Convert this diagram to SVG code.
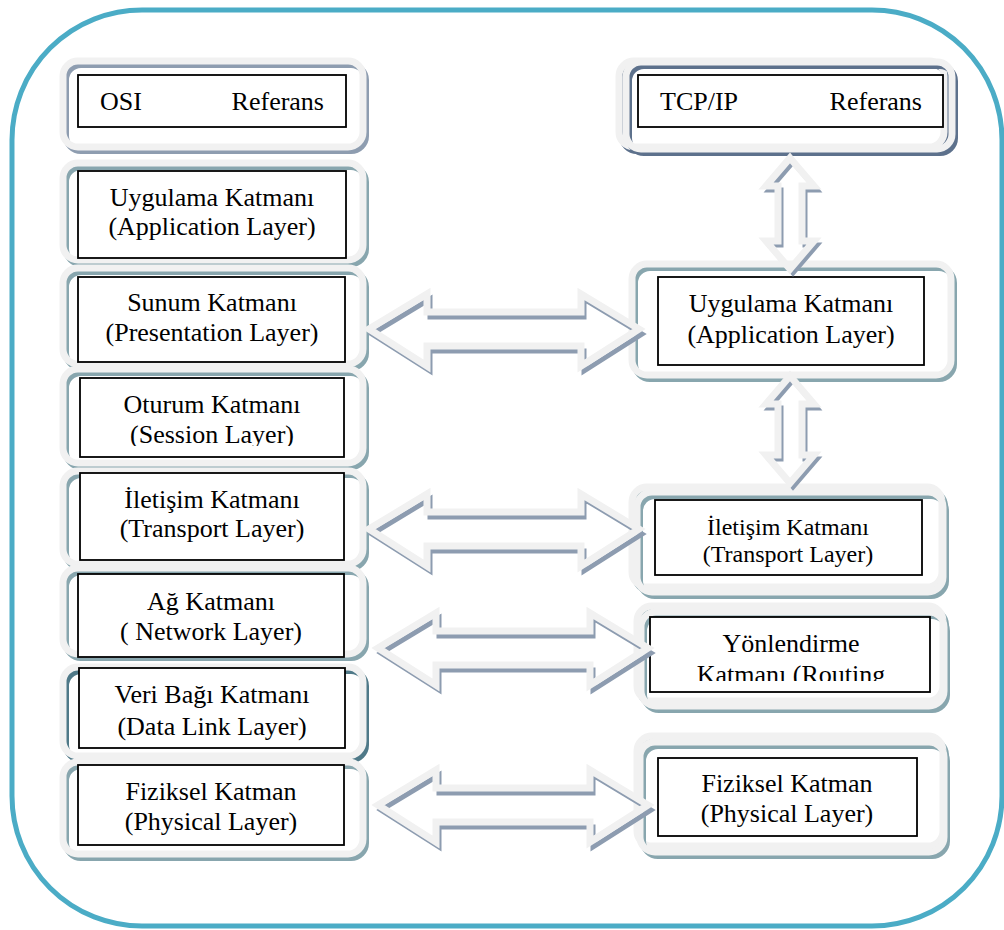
<svg xmlns="http://www.w3.org/2000/svg" xmlns:xlink="http://www.w3.org/1999/xlink" width="1004" height="930" viewBox="0 0 1004 930">
  <style>
    .outline { fill: none; stroke: #4bacc6; stroke-width: 5; }
    .face { fill: none; stroke: #f1f1f1; stroke-width: 7; stroke-linejoin: round; }
    .sh { fill: none; stroke-width: 6; stroke-linejoin: round; }
    .sh-blue { stroke: #8e9db0; }
    .sh-teal { stroke: #88a6ae; }
    .sh-dark { stroke: #5d718c; }
    .sh-deep { stroke: #4f7988; }
    .box { fill: #ffffff; stroke: #000000; stroke-width: 1.8; }
    .lbl { font-family: "Liberation Serif", "Times New Roman", serif; font-size: 26px; fill: #000000; text-anchor: middle; }
    .lbl-s { font-size: 24px; }
    .hdr { font-family: "Liberation Serif", "Times New Roman", serif; font-size: 26px; fill: #000000; }
    .arr-sh { fill: none; stroke: #8d9cb0; stroke-width: 5; stroke-linejoin: miter; }
    .arr { fill: none; stroke: #f1f1f1; stroke-width: 7; stroke-linejoin: miter; }
  </style>
  <defs>
    <clipPath id="clip-session"><rect x="80" y="378" width="264" height="68"/></clipPath>
    <clipPath id="clip-routing"><rect x="650" y="617" width="280" height="64"/></clipPath>
    <!-- horizontal double block arrow, centred on y=0 -->
    <polygon id="harrow" points="0,0 58,-35 58,-17 212,-17 212,-35 270,0 212,37 212,17 58,17 58,37"/>
    <!-- vertical double block arrow, centred on x=0 -->
    <polygon id="varrow-a" points="0,0 24,28 12,28 12,83 24,83 0,111 -24,83 -12,83 -12,28 -24,28"/>
    <polygon id="varrow-b" points="0,0 24,28 12,28 12,79 24,79 0,107 -24,79 -12,79 -12,28 -24,28"/>
  </defs>

  <!-- outer rounded border -->
  <rect class="outline" x="12" y="10" width="990" height="916" rx="130" ry="130"/>

  <!-- OSI column -->
  <g id="osi-header">
    <rect class="sh sh-blue" x="66" y="65" width="300" height="86" rx="15"/>
    <rect class="face" x="63" y="61" width="300" height="86" rx="15"/>
    <rect class="box" x="78" y="75" width="268" height="52"/>
    <text class="hdr" x="100" y="110">OSI</text>
    <text class="hdr" x="324" y="110" text-anchor="end">Referans</text>
  </g>
  <g id="osi-application">
    <rect class="sh sh-teal" x="66" y="167" width="300" height="97" rx="15"/>
    <rect class="face" x="63" y="163" width="300" height="97" rx="15"/>
    <rect class="box" x="78" y="171" width="268" height="87"/>
    <text class="lbl" x="212" y="206">Uygulama Katmanı</text>
    <text class="lbl" x="212" y="235">(Application Layer)</text>
  </g>
  <g id="osi-presentation">
    <rect class="sh sh-teal" x="66" y="272" width="300" height="96" rx="15"/>
    <rect class="face" x="63" y="268" width="300" height="96" rx="15"/>
    <rect class="box" x="78" y="277" width="267" height="85"/>
    <text class="lbl" x="212" y="311">Sunum Katmanı</text>
    <text class="lbl" x="212" y="341">(Presentation Layer)</text>
  </g>
  <g id="osi-session">
    <rect class="sh sh-teal" x="66" y="373" width="300" height="94" rx="15"/>
    <rect class="face" x="63" y="369" width="300" height="94" rx="15"/>
    <rect class="box" x="80" y="378" width="264" height="79"/>
    <g clip-path="url(#clip-session)">
      <text class="lbl" x="212" y="413">Oturum Katmanı</text>
      <text class="lbl" x="212" y="443">(Session Layer)</text>
    </g>
  </g>
  <g id="osi-transport">
    <rect class="sh sh-teal" x="66" y="475" width="300" height="93" rx="15"/>
    <rect class="face" x="63" y="471" width="300" height="93" rx="15"/>
    <rect class="box" x="80" y="473" width="264" height="87"/>
    <text class="lbl" x="212" y="508">İletişim Katmanı</text>
    <text class="lbl" x="212" y="537">(Transport Layer)</text>
  </g>
  <g id="osi-network">
    <rect class="sh sh-teal" x="66" y="572" width="300" height="86" rx="15"/>
    <rect class="face" x="63" y="568" width="300" height="86" rx="15"/>
    <rect class="box" x="78" y="574" width="266" height="83"/>
    <text class="lbl" x="211" y="610">Ağ Katmanı</text>
    <text class="lbl" x="211" y="640">( Network Layer)</text>
  </g>
  <g id="osi-datalink">
    <rect class="sh sh-deep" x="66" y="671" width="300" height="89" rx="15"/>
    <rect class="face" x="63" y="667" width="300" height="89" rx="15"/>
    <rect class="box" x="79" y="668" width="266" height="80"/>
    <text class="lbl" x="212" y="703">Veri Bağı Katmanı</text>
    <text class="lbl" x="212" y="735">(Data Link Layer)</text>
  </g>
  <g id="osi-physical">
    <rect class="sh sh-teal" x="66" y="766" width="300" height="92" rx="15"/>
    <rect class="face" x="63" y="762" width="300" height="92" rx="15"/>
    <rect class="box" x="78" y="765" width="266" height="80"/>
    <text class="lbl" x="211" y="800">Fiziksel Katman</text>
    <text class="lbl" x="211" y="830">(Physical Layer)</text>
  </g>

  <!-- TCP/IP column -->
  <g id="tcp-header">
    <rect class="sh sh-dark" x="622" y="65" width="325" height="86" rx="15"/>
    <rect class="face" x="619" y="61" width="325" height="86" rx="15"/>
    <rect class="sh sh-dark" x="629" y="66" width="326" height="87" rx="15"/>
    <rect class="face" x="626" y="62" width="326" height="87" rx="15"/>
    <rect class="box" x="638" y="75" width="305" height="52"/>
    <text class="hdr" x="660" y="110">TCP/IP</text>
    <text class="hdr" x="922" y="110" text-anchor="end">Referans</text>
  </g>
  <g id="tcp-application">
    <rect class="sh sh-teal" x="635" y="268" width="319" height="111" rx="15"/>
    <rect class="face" x="632" y="264" width="319" height="111" rx="15"/>
    <rect class="box" x="658" y="277" width="266" height="88"/>
    <text class="lbl" x="791" y="312">Uygulama Katmanı</text>
    <text class="lbl" x="791" y="343">(Application Layer)</text>
  </g>
  <g id="tcp-transport">
    <rect class="sh sh-teal" x="635" y="491" width="310" height="100" rx="15"/>
    <rect class="face" x="632" y="487" width="310" height="100" rx="15"/>
    <rect class="sh sh-teal" x="640" y="496" width="306" height="100" rx="15"/>
    <rect class="face" x="637" y="492" width="306" height="100" rx="15"/>
    <rect class="box" x="655" y="500" width="267" height="75"/>
    <text class="lbl lbl-s" x="788" y="535">İletişim Katmanı</text>
    <text class="lbl lbl-s" x="788" y="562">(Transport Layer)</text>
  </g>
  <g id="tcp-routing">
    <rect class="sh sh-teal" x="640" y="610" width="306" height="95" rx="15"/>
    <rect class="face" x="637" y="606" width="306" height="95" rx="15"/>
    <rect class="sh sh-teal" x="644" y="616" width="303" height="94" rx="15"/>
    <rect class="face" x="641" y="612" width="303" height="94" rx="15"/>
    <rect class="box" x="650" y="617" width="280" height="75"/>
    <g clip-path="url(#clip-routing)">
      <text class="lbl" x="791" y="652">Yönlendirme</text>
      <text class="lbl" x="791" y="683">Katmanı (Routing</text>
    </g>
  </g>
  <g id="tcp-physical">
    <rect class="sh sh-teal" x="640" y="740" width="306" height="110" rx="15"/>
    <rect class="face" x="637" y="736" width="306" height="110" rx="15"/>
    <rect class="sh sh-teal" x="643" y="746" width="304" height="110" rx="15"/>
    <rect class="face" x="640" y="742" width="304" height="110" rx="15"/>
    <rect class="box" x="658" y="758" width="259" height="78"/>
    <text class="lbl" x="787" y="792">Fiziksel Katman</text>
    <text class="lbl" x="787" y="822">(Physical Layer)</text>
  </g>

  <!-- two-way block arrows between the layers -->
  <g id="connectors">
    <use xlink:href="#harrow" class="arr-sh" transform="translate(372,334)"/>
    <use xlink:href="#harrow" class="arr" transform="translate(369,329)"/>

    <use xlink:href="#harrow" class="arr-sh" transform="translate(372,534)"/>
    <use xlink:href="#harrow" class="arr" transform="translate(369,529)"/>

    <use xlink:href="#harrow" class="arr-sh" transform="translate(381,653)"/>
    <use xlink:href="#harrow" class="arr" transform="translate(378,648)"/>

    <use xlink:href="#harrow" class="arr-sh" transform="translate(381,810)"/>
    <use xlink:href="#harrow" class="arr" transform="translate(378,805)"/>

    <use xlink:href="#varrow-a" class="arr-sh" transform="translate(793,162)"/>
    <use xlink:href="#varrow-a" class="arr" transform="translate(790,158)"/>

    <use xlink:href="#varrow-b" class="arr-sh" transform="translate(793,380)"/>
    <use xlink:href="#varrow-b" class="arr" transform="translate(790,376)"/>
  </g>
</svg>
